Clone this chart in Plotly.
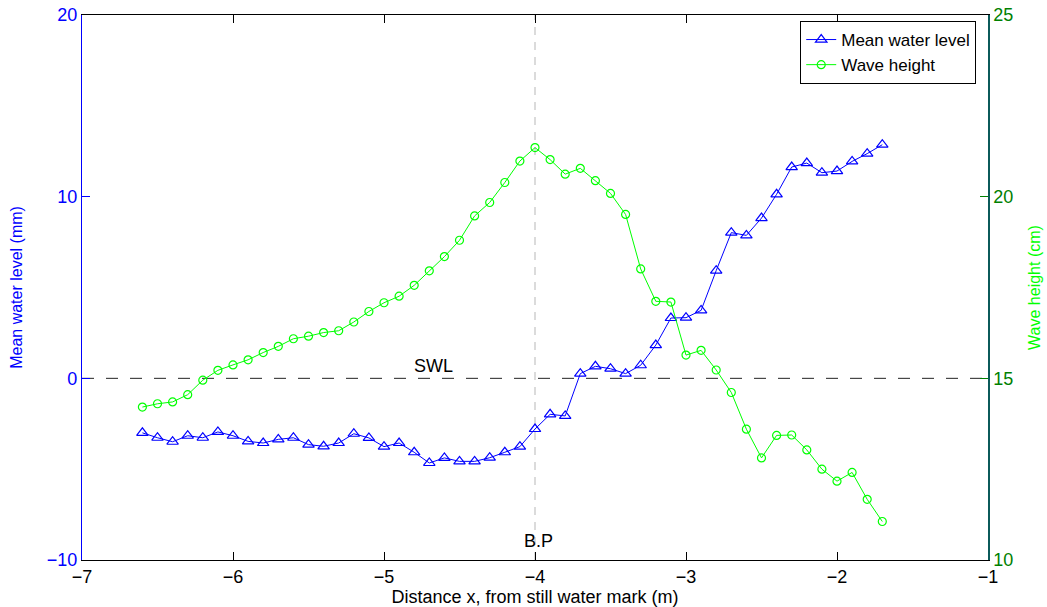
import plotly.graph_objects as go

distance = [-6.6, -6.5, -6.4, -6.3, -6.2, -6.1, -6.0, -5.9, -5.8, -5.7,
            -5.6, -5.5, -5.4, -5.3, -5.2, -5.1, -5.0, -4.9, -4.8, -4.7,
            -4.6, -4.5, -4.4, -4.3, -4.2, -4.1, -4.0, -3.9, -3.8, -3.7,
            -3.6, -3.5, -3.4, -3.3, -3.2, -3.1, -3.0, -2.9, -2.8, -2.7,
            -2.6, -2.5, -2.4, -2.3, -2.2, -2.1, -2.0, -1.9, -1.8, -1.7]

mean_water_level = [-3.00, -3.27, -3.49, -3.16, -3.27, -2.95, -3.16, -3.47, -3.56, -3.36,
                    -3.27, -3.65, -3.74, -3.56, -3.05, -3.28, -3.76, -3.56, -4.07, -4.66,
                    -4.38, -4.57, -4.57, -4.37, -4.07, -3.76, -2.79, -1.98, -2.07, 0.26,
                    0.66, 0.53, 0.26, 0.72, 1.83, 3.32, 3.34, 3.74, 5.93, 8.02,
                    7.87, 8.82, 10.13, 11.63, 11.85, 11.32, 11.41, 11.94, 12.37, 12.86]

wave_height = [14.21, 14.30, 14.35, 14.55, 14.95, 15.22, 15.37, 15.51, 15.71, 15.88,
               16.09, 16.16, 16.26, 16.31, 16.55, 16.84, 17.08, 17.26, 17.56, 17.96,
               18.35, 18.80, 19.47, 19.84, 20.39, 20.98, 21.35, 21.02, 20.62, 20.78,
               20.44, 20.09, 19.51, 18.01, 17.12, 17.10, 15.64, 15.77, 15.23, 14.61,
               13.60, 12.81, 13.43, 13.44, 13.03, 12.50, 12.17, 12.41, 11.67, 11.06]

x_ticks = [-7, -6, -5, -4, -3, -2, -1]
left_ticks = [-10, 0, 10, 20]
right_ticks = [10, 15, 20, 25]

FONT = "Liberation Sans, Arial, Helvetica, sans-serif"
BLUE = "#0000ff"
GREEN = "#00ff00"
DKGREEN = "#008000"
TEAL = "#0b5a5a"

fig = go.Figure()
fig.add_trace(go.Scatter(
    x=distance, y=mean_water_level, name="Mean water level",
    mode="lines+markers", line=dict(color=BLUE, width=1),
    marker=dict(symbol="triangle-up-open", size=10, color=BLUE, line=dict(width=1.2, color=BLUE)),
    yaxis="y"))
fig.add_trace(go.Scatter(
    x=distance, y=wave_height, name="Wave height",
    mode="lines+markers", line=dict(color=GREEN, width=1),
    marker=dict(symbol="circle-open", size=8, color=GREEN, line=dict(width=1.2, color=GREEN)),
    yaxis="y2"))

# SWL dashed line and breaking point line
fig.add_shape(type="line", xref="paper", yref="y", x0=0, x1=1, y0=0, y1=0,
              line=dict(color="#222222", width=1, dash="12px,12px"), layer="below")
fig.add_shape(type="line", xref="x", yref="paper", x0=-4, x1=-4, y0=0, y1=1,
              line=dict(color="#c8c8c8", width=1.3, dash="8px,7px"), layer="below")

fig.add_annotation(x=-4.67, y=0.66, xref="x", yref="y", text="SWL", showarrow=False,
                   font=dict(family=FONT, size=18, color="black"))
fig.add_annotation(x=-3.98, y=-8.97, xref="x", yref="y", text="B.P", showarrow=False,
                   font=dict(family=FONT, size=18, color="black"))

fig.update_layout(
    width=1047, height=607,
    margin=dict(l=82, r=59, t=15, b=47),
    paper_bgcolor="white", plot_bgcolor="white",
    font=dict(family=FONT, size=18, color="black"),
    showlegend=True,
    legend=dict(x=0.987, y=0.989, xanchor="right", yanchor="top",
                bgcolor="white", bordercolor="black", borderwidth=1,
                font=dict(family=FONT, size=17, color="black"),
                tracegroupgap=0, itemwidth=30),
    xaxis=dict(range=[-7, -1], tickvals=x_ticks, ticktext=["\u2212" + str(abs(v)) for v in x_ticks],
               ticks="inside", ticklen=8, tickcolor="black", showline=True, linecolor="black",
               linewidth=1.2, mirror="ticks", showgrid=False, zeroline=False, automargin=False,
               tickfont=dict(family=FONT, size=18, color="black"),
               title=dict(text="Distance x, from still water mark (m)", standoff=1,
                          font=dict(family=FONT, size=18, color="black"))),
    yaxis=dict(range=[-10, 20], tickvals=left_ticks,
               ticktext=["\u221210", "0", "10", "20"],
               ticks="inside", ticklen=8, tickcolor=BLUE, showline=True, linecolor=BLUE,
               linewidth=1.2, showgrid=False, zeroline=False, automargin=False,
               tickfont=dict(family=FONT, size=18, color=BLUE),
               title=dict(text="Mean water level (mm)", standoff=20,
                          font=dict(family=FONT, size=16, color=BLUE))),
    yaxis2=dict(range=[10, 25], tickvals=right_ticks, overlaying="y", side="right",
                ticks="inside", ticklen=8, tickcolor=DKGREEN, showline=True, linecolor=TEAL,
                linewidth=1.5, showgrid=False, zeroline=False, automargin=False,
                tickfont=dict(family=FONT, size=18, color=DKGREEN),
                title=dict(text="Wave height (cm)", standoff=16,
                           font=dict(family=FONT, size=16, color=GREEN))),
)

fig.write_html("out.html")
